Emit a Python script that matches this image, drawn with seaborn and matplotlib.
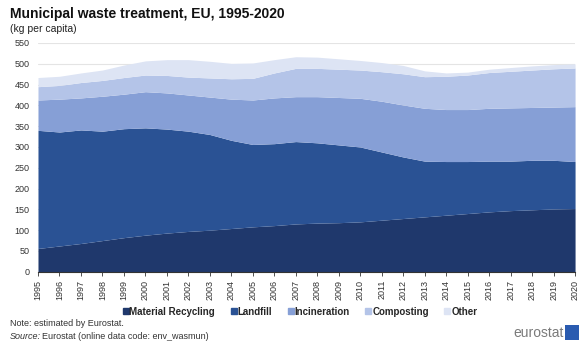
import numpy as np
import pandas as pd
import matplotlib
matplotlib.use("Agg")
import matplotlib.pyplot as plt
from matplotlib.lines import Line2D
from matplotlib.patches import Rectangle
import seaborn as sns

# Municipal waste treatment in the EU, kg per capita
years = list(range(1995, 2021))
material_recycling = [56, 62, 68, 75, 82, 88, 93, 97, 100, 104, 108, 111, 115,
                      117, 118, 120, 124, 128, 132, 136, 140, 144, 147, 149, 151, 152]
landfill = [284, 274, 273, 263, 262, 258, 250, 241, 230, 212, 198, 197, 198,
            193, 187, 180, 164, 148, 134, 129, 125, 122, 119, 119, 117, 113]
incineration = [73, 79, 77, 84, 83, 87, 87, 87, 90, 99, 107, 110, 108,
                111, 114, 117, 122, 125, 127, 125, 125, 127, 128, 127, 128, 132]
composting = [32, 33, 37, 38, 40, 40, 42, 43, 46, 49, 52, 60, 68,
              68, 68, 68, 71, 75, 76, 80, 83, 86, 88, 90, 92, 93]
other = [22, 22, 23, 25, 30, 34, 38, 42, 40, 37, 37, 32, 28,
         27, 25, 23, 22, 20, 14, 8, 7, 8, 9, 10, 10, 10]

series_names = ["Material Recycling", "Landfill", "Incineration", "Composting", "Other"]
df = pd.DataFrame({"year": years,
                   "Material Recycling": material_recycling,
                   "Landfill": landfill,
                   "Incineration": incineration,
                   "Composting": composting,
                   "Other": other})

sns.set_theme(style="white")
plt.rcParams["font.family"] = ["Liberation Sans", "DejaVu Sans"]

palette = sns.color_palette(["#1f386c", "#2a5294", "#869fd6", "#b4c4e8", "#dde4f4"])

fig = plt.figure(figsize=(5.88, 3.44), dpi=100)
ax = fig.add_axes([0.0646, 0.210, 0.9134, 0.665])

ax.stackplot(df["year"], [df[c] for c in series_names], colors=palette,
             linewidth=0, zorder=2)

ax.set_xlim(1995, 2020)
ax.set_ylim(0, 550)
ax.set_yticks(np.arange(0, 551, 50))
ax.set_yticklabels([str(v) for v in range(0, 551, 50)])
ax.set_xticks(years)
ax.set_xticklabels([str(y) for y in years], rotation=90)
ax.tick_params(axis="y", labelsize=6.5, labelcolor="#333333", length=0, pad=6)
ax.tick_params(axis="x", labelsize=6.5, labelcolor="#333333", length=3,
               width=0.6, color="#333333", pad=3, bottom=True)

ax.yaxis.grid(True, color="#e4e4e4", linewidth=0.8, zorder=0)
ax.set_axisbelow(True)
for side in ["top", "right", "left"]:
    ax.spines[side].set_visible(False)
ax.spines["bottom"].set_color("#333333")
ax.spines["bottom"].set_linewidth(0.8)
ax.set_xlabel("")
ax.set_ylabel("")

# Title block
fig.text(0.017, 0.958, "Municipal waste treatment, EU, 1995-2020",
         fontsize=10, fontweight="bold", color="#111111", va="center")
fig.text(0.017, 0.917, "(kg per capita)", fontsize=7.5, color="#222222", va="center")

# Legend
handles = [Line2D([0], [0], marker="s", linestyle="none", markersize=4,
                  markerfacecolor=c, markeredgecolor=c) for c in palette]
fig.legend(handles, series_names, loc="center", bbox_to_anchor=(0.51, 0.094),
           ncol=5, frameon=False, handlelength=0.6, handletextpad=0.1,
           columnspacing=1.6, prop={"size": 7, "weight": "bold"})

# Notes
fig.text(0.017, 0.060, "Note: estimated by Eurostat.", fontsize=6.5, color="#333333", va="center")
fig.text(0.017, 0.022, "Source:", fontsize=6.5, color="#333333", va="center", style="italic")
fig.text(0.072, 0.022, "Eurostat (online data code: env_wasmun)", fontsize=6.5,
         color="#333333", va="center")

# Eurostat mark
fig.text(0.958, 0.032, "eurostat", fontsize=10, color="#7a7a7a", ha="right", va="center")
fig.patches.append(Rectangle((0.961, 0.012), 0.023, 0.042, transform=fig.transFigure,
                             facecolor="#2a5bb0", edgecolor="none"))

fig.savefig("out.png", dpi=100)
